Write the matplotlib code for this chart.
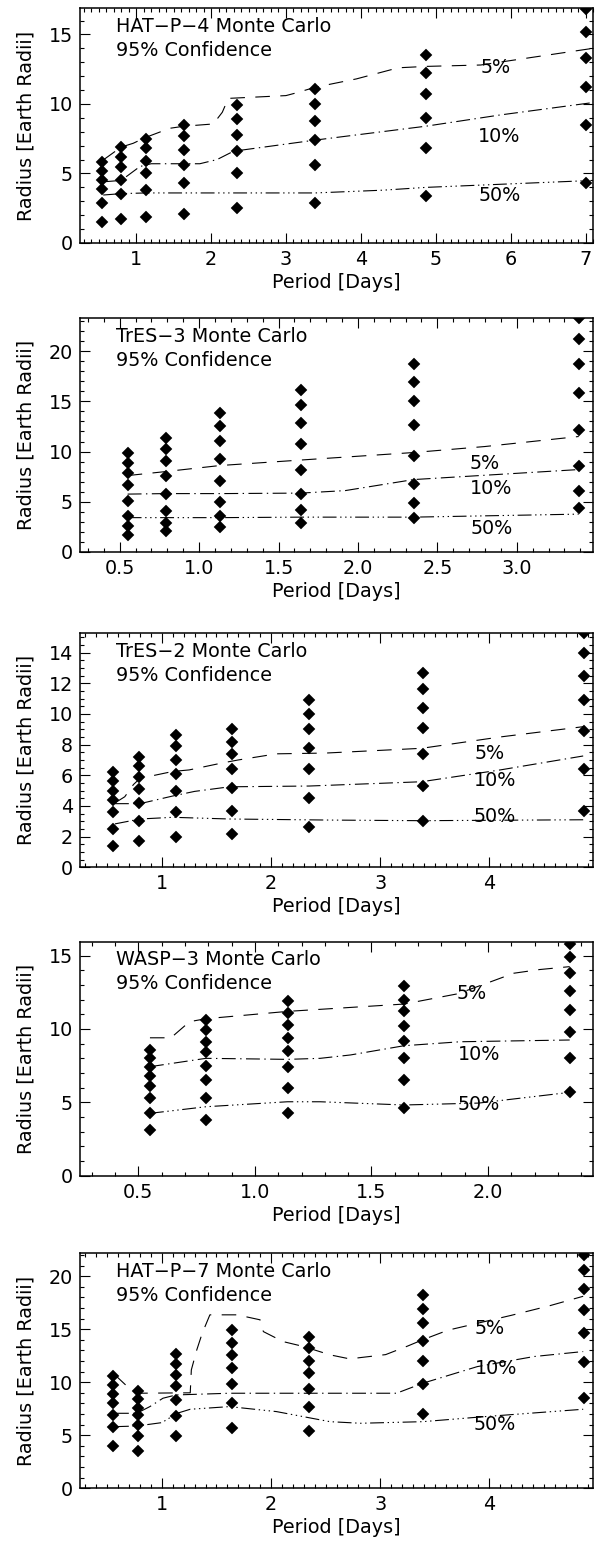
import matplotlib
matplotlib.use("Agg")
import matplotlib.pyplot as plt
from matplotlib.ticker import MultipleLocator, FuncFormatter

plt.rcParams['font.family'] = ['DejaVu Sans']
plt.rcParams['lines.scale_dashes'] = False

# ---------------- data ----------------
TITLES = ["HAT\u2212P\u22124 Monte Carlo", "TrES\u22123 Monte Carlo", "TrES\u22122 Monte Carlo",
          "WASP\u22123 Monte Carlo", "HAT\u2212P\u22127 Monte Carlo"]
SUBTITLE = "95% Confidence"

# Panel 1 : HAT-P-4
P1_PERIOD = [0.55, 0.80, 1.13, 1.64, 2.35, 3.39, 4.87, 7.00]
P1_RADII = [[5.8, 5.2, 4.5, 3.9, 2.9, 1.5],
            [6.9, 6.2, 5.5, 4.5, 3.5, 1.7],
            [7.5, 6.8, 5.9, 5.0, 3.8, 1.9],
            [8.5, 7.7, 6.7, 5.6, 4.3, 2.1],
            [9.9, 8.9, 7.8, 6.6, 5.0, 2.5],
            [11.1, 10.0, 8.8, 7.4, 5.6, 2.9],
            [13.5, 12.2, 10.7, 9.0, 6.8, 3.4],
            [16.8, 15.2, 13.3, 11.2, 8.5, 4.3]]
P1_X5 = [0.56, 0.80, 0.96, 1.13, 1.45, 1.64, 2.03, 2.15, 2.23, 3.00, 3.14, 3.39, 3.94, 4.50, 4.87, 5.60, 7.10]
P1_Y5 = [5.97, 6.90, 7.17, 7.60, 8.25, 8.40, 8.56, 9.40, 10.40, 10.60, 10.80, 11.20, 11.80, 12.60, 12.70, 12.80, 14.00]
P1_X10 = [0.56, 0.80, 1.05, 1.20, 1.85, 2.08, 2.30, 3.39, 4.87, 5.85, 7.10]
P1_Y10 = [4.40, 4.50, 5.50, 5.70, 5.70, 6.00, 6.60, 7.40, 8.40, 9.20, 10.10]
P1_X50 = [0.56, 0.80, 1.13, 2.35, 3.39, 4.30, 4.87, 7.10]
P1_Y50 = [3.45, 3.55, 3.60, 3.60, 3.60, 3.80, 4.00, 4.50]
P1_LABEL_XY = [(5.80, 12.6), (5.85, 7.65), (5.85, 3.45)]

# Panel 2 : TrES-3
P2_PERIOD = [0.55, 0.79, 1.13, 1.64, 2.35, 3.39]
P2_RADII = [[9.9, 8.9, 7.9, 6.7, 5.1, 3.6, 2.6, 1.7],
            [11.4, 10.3, 9.1, 7.6, 5.8, 4.1, 2.9, 2.1],
            [13.8, 12.5, 11.1, 9.3, 7.1, 5.0, 3.6, 2.5],
            [16.1, 14.6, 12.8, 10.8, 8.2, 5.8, 4.2, 2.9],
            [18.7, 16.9, 15.0, 12.6, 9.6, 6.8, 4.9, 3.4],
            [23.3, 21.2, 18.7, 15.8, 12.1, 8.6, 6.1, 4.4]]
P2_X5 = [0.55, 0.79, 1.13, 1.64, 2.35, 2.80, 3.39]
P2_Y5 = [7.60, 8.00, 8.60, 9.15, 9.90, 10.50, 11.50]
P2_X10 = [0.55, 0.79, 1.13, 1.64, 1.92, 2.35, 3.39]
P2_Y10 = [5.75, 5.80, 5.80, 5.85, 6.10, 7.20, 8.20]
P2_X50 = [0.55, 1.13, 1.64, 2.35, 3.39]
P2_Y50 = [3.40, 3.40, 3.45, 3.45, 3.75]
P2_LABEL_XY = [(2.80, 8.84), (2.84, 6.34), (2.84, 2.34)]

# Panel 3 : TrES-2
P3_PERIOD = [0.55, 0.79, 1.13, 1.64, 2.35, 3.39, 4.87]
P3_RADII = [[6.2, 5.6, 5.0, 4.4, 3.6, 2.5, 1.4],
            [7.2, 6.6, 5.9, 5.1, 4.2, 3.0, 1.7],
            [8.6, 7.9, 7.0, 6.1, 5.0, 3.6, 2.0],
            [9.0, 8.2, 7.4, 6.4, 5.2, 3.7, 2.2],
            [10.9, 10.0, 9.0, 7.8, 6.4, 4.5, 2.6],
            [12.7, 11.6, 10.4, 9.1, 7.4, 5.3, 3.0],
            [15.3, 14.0, 12.5, 10.9, 8.9, 6.4, 3.7]]
P3_X5 = [0.57, 0.66, 0.74, 0.80, 1.10, 1.25, 1.55, 1.70, 2.05, 2.50, 3.38, 4.10, 4.86]
P3_Y5 = [4.20, 4.60, 5.40, 5.80, 6.25, 6.35, 6.80, 7.00, 7.40, 7.45, 7.76, 8.50, 9.17]
P3_X10 = [0.57, 0.80, 1.10, 1.30, 1.62, 2.35, 3.38, 4.10, 4.86]
P3_Y10 = [4.15, 4.15, 4.65, 4.95, 5.25, 5.30, 5.58, 6.35, 7.26]
P3_X50 = [0.57, 0.80, 1.10, 1.62, 2.54, 3.38, 4.86]
P3_Y50 = [2.83, 3.15, 3.26, 3.15, 3.08, 3.04, 3.10]
P3_LABEL_XY = [(4.00, 7.39), (4.05, 5.69), (4.05, 3.30)]

# Panel 4 : WASP-3
P4_PERIOD = [0.55, 0.79, 1.14, 1.64, 2.35]
P4_RADII = [[8.6, 8.0, 7.4, 6.8, 6.1, 5.3, 4.3, 3.1],
            [10.6, 9.9, 9.1, 8.4, 7.5, 6.5, 5.3, 3.8],
            [11.9, 11.1, 10.3, 9.4, 8.5, 7.4, 6.0, 4.3],
            [12.9, 12.0, 11.2, 10.2, 9.2, 8.0, 6.5, 4.6],
            [15.8, 14.9, 13.8, 12.6, 11.3, 9.8, 8.0, 5.7]]
P4_X5 = [0.55, 0.64, 0.72, 0.79, 1.14, 1.64, 1.87, 2.02, 2.11, 2.22, 2.35]
P4_Y5 = [9.40, 9.40, 10.50, 10.70, 11.20, 11.70, 12.40, 13.27, 13.80, 14.05, 14.25]
P4_X10 = [0.55, 0.79, 1.14, 1.28, 1.41, 1.64, 1.88, 2.35]
P4_Y10 = [7.43, 8.00, 7.93, 8.00, 8.23, 8.86, 9.13, 9.25]
P4_X50 = [0.55, 0.79, 1.14, 1.28, 1.64, 1.96, 2.35]
P4_Y50 = [4.25, 4.70, 5.04, 5.04, 4.82, 4.95, 5.68]
P4_LABEL_XY = [(1.93, 12.43), (1.96, 8.23), (1.96, 4.82)]

# Panel 5 : HAT-P-7
P5_PERIOD = [0.55, 0.78, 1.13, 1.64, 2.35, 3.39, 4.87]
P5_RADII = [[10.6, 9.7, 8.9, 8.0, 6.9, 5.8, 4.0],
            [9.2, 8.4, 7.6, 6.9, 6.0, 4.9, 3.5],
            [12.7, 11.7, 10.7, 9.6, 8.3, 6.8, 4.9],
            [14.9, 13.7, 12.6, 11.3, 9.8, 8.0, 5.7],
            [14.3, 13.2, 12.0, 10.9, 9.4, 7.7, 5.4],
            [18.2, 16.9, 15.6, 13.9, 12.0, 9.8, 7.0],
            [22.0, 20.6, 18.8, 16.8, 14.6, 11.9, 8.5]]
P5_X5 = [0.57, 0.69, 0.77, 1.26, 1.27, 1.32, 1.37, 1.44, 1.69, 1.90, 1.93, 2.11, 2.30, 2.54,
         2.72, 3.05, 3.25, 3.39, 3.62, 4.20, 4.55, 4.86]
P5_Y5 = [10.69, 9.53, 8.96, 9.00, 11.16, 13.05, 14.62, 16.35, 16.35, 15.88, 14.77, 13.83, 13.36, 12.58,
         12.20, 12.60, 13.40, 14.00, 14.90, 16.30, 17.20, 18.10]
P5_X10 = [0.57, 0.77, 0.89, 1.01, 1.13, 1.62, 2.54, 3.15, 3.39, 3.89, 4.41, 4.86]
P5_Y10 = [7.07, 7.07, 7.70, 8.49, 8.80, 8.96, 8.96, 8.96, 9.90, 11.47, 12.42, 12.89]
P5_X50 = [0.57, 0.77, 1.00, 1.14, 1.26, 1.62, 2.05, 2.54, 2.82, 3.39, 3.95, 4.86]
P5_Y50 = [5.81, 5.87, 6.19, 7.07, 7.45, 7.70, 7.23, 6.28, 6.13, 6.28, 6.75, 7.45]
P5_LABEL_XY = [(4.00, 15.09), (4.06, 11.25), (4.05, 6.04)]

LEVEL_LABELS = ["5%", "10%", "50%"]

# axis settings per panel
X_LIMS = [(0.25, 7.1), (0.25, 3.48), (0.25, 4.95), (0.25, 2.45), (0.25, 4.95)]
Y_LIMS = [(0, 16.9), (0, 23.3), (0, 15.26), (0, 15.95), (0, 22.15)]
X_MAJOR = [1, 0.5, 1, 0.5, 1]
Y_MAJOR = [5, 5, 2, 5, 5]
Y_MINOR = [1, 1, 0.5, 1, 1]
X_FMT = ["%d", "%.1f", "%d", "%.1f", "%d"]

# ---------------- figure ----------------
W, H = 612, 1541
fig = plt.figure(figsize=(W / 100, H / 100), dpi=100)
fig.patch.set_facecolor('white')

PANEL_TOP = [8, 318.3, 633.3, 941.7, 1253.3]
PANEL_BOT = [243, 551.7, 867.3, 1175.7, 1488.3]
AX_L, AX_R = 80, 593

panels = [
    (P1_PERIOD, P1_RADII, P1_X5, P1_Y5, P1_X10, P1_Y10, P1_X50, P1_Y50, P1_LABEL_XY),
    (P2_PERIOD, P2_RADII, P2_X5, P2_Y5, P2_X10, P2_Y10, P2_X50, P2_Y50, P2_LABEL_XY),
    (P3_PERIOD, P3_RADII, P3_X5, P3_Y5, P3_X10, P3_Y10, P3_X50, P3_Y50, P3_LABEL_XY),
    (P4_PERIOD, P4_RADII, P4_X5, P4_Y5, P4_X10, P4_Y10, P4_X50, P4_Y50, P4_LABEL_XY),
    (P5_PERIOD, P5_RADII, P5_X5, P5_Y5, P5_X10, P5_Y10, P5_X50, P5_Y50, P5_LABEL_XY),
]

DASH5 = (0, (10.5, 7.5))
DASH10 = (0, (10.0, 3.2, 1.0, 3.2))
DASH50 = (0, (10.0, 2.6, 1.0, 2.6, 1.0, 2.6, 1.0, 2.6))
FS = 13.8
LW = 0.8

for i, (per, rad, x5, y5, x10, y10, x50, y50, lab_xy) in enumerate(panels):
    top, bot = PANEL_TOP[i], PANEL_BOT[i]
    hpx = bot - top
    wpx = AX_R - AX_L
    ax = fig.add_axes([AX_L / W, 1 - bot / H, wpx / W, hpx / H])

    for p, col in zip(per, rad):
        ax.plot([p] * len(col), col, ls='none', marker='D', ms=5.8,
                color='black', mec='black', mew=0.3, zorder=3)

    ax.plot(x5, y5, color='black', lw=LW, ls=DASH5)
    ax.plot(x10, y10, color='black', lw=LW, ls=DASH10)
    ax.plot(x50, y50, color='black', lw=LW, ls=DASH50)

    for (lx, ly), txt in zip(lab_xy, LEVEL_LABELS):
        ax.text(lx, ly, txt, ha='center', va='center', fontsize=FS, color='black', zorder=4)

    ax.set_xlim(*X_LIMS[i])
    ax.set_ylim(*Y_LIMS[i])
    ax.xaxis.set_major_locator(MultipleLocator(X_MAJOR[i]))
    ax.xaxis.set_minor_locator(MultipleLocator(0.1))
    ax.yaxis.set_major_locator(MultipleLocator(Y_MAJOR[i]))
    ax.yaxis.set_minor_locator(MultipleLocator(Y_MINOR[i]))
    fmt = X_FMT[i]
    ax.xaxis.set_major_formatter(FuncFormatter(lambda v, _p, f=fmt: f % v))
    ax.yaxis.set_major_formatter(FuncFormatter(lambda v, _p: "%d" % round(v)))

    ax.tick_params(which='both', direction='in', top=True, right=True, labelsize=FS, width=0.8)
    ax.tick_params(which='major', length=7, pad=5)
    ax.tick_params(which='minor', length=3)
    for s in ax.spines.values():
        s.set_linewidth(1.1)

    ax.set_xlabel("Period [Days]", fontsize=FS)
    ax.set_ylabel("Radius [Earth Radii]", fontsize=FS)
    ax.xaxis.set_label_coords(0.5, -30.0 / hpx)
    ax.yaxis.set_label_coords(-44.0 / wpx, 0.5)

    ax.text(36.0 / wpx, 1 - 18.0 / hpx, TITLES[i], transform=ax.transAxes,
            ha='left', va='center', fontsize=FS)
    ax.text(36.0 / wpx, 1 - 42.0 / hpx, SUBTITLE, transform=ax.transAxes,
            ha='left', va='center', fontsize=FS)

fig.savefig("out.png", dpi=100, facecolor='white')
